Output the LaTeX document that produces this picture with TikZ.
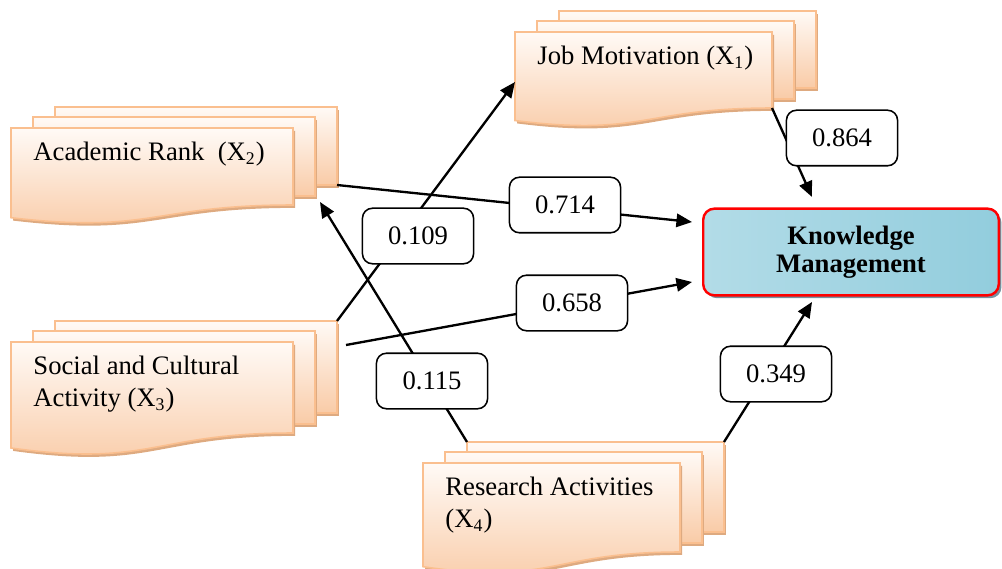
\documentclass[tikz,border=0pt]{standalone}
\usepackage{fontspec}
\setmainfont{Liberation Serif}
\usepackage{tikz}
\usetikzlibrary{
  arrows.meta
  , calc
  , shadows
}

\definecolor{docline}{RGB}{250,191,143}
\definecolor{doctop}{RGB}{255,250,246}
\definecolor{docbot}{RGB}{249,203,167}
\definecolor{docshade}{RGB}{222,170,128}
\definecolor{kmlight}{RGB}{218,238,244}
\definecolor{kmdark}{RGB}{146,205,221}
\definecolor{kmshade}{RGB}{118,146,160}

\tikzset{
  docsheet/.style={draw=docline, line width=0.7pt,
    top color=doctop, bottom color=docbot,
    drop shadow={shadow xshift=0.9pt, shadow yshift=-1.3pt,
      fill=docshade, opacity=1}},
  doctext/.style={anchor=north west, inner sep=0pt, align=left,
    font=\fontsize{12}{14}\selectfont},
  kmbox/.style={draw=red, line width=1.1pt, rounded corners=5pt,
    left color=kmdark!55!kmlight, middle color=kmlight, right color=kmdark,
    minimum width=133pt, minimum height=39pt, align=center,
    text depth=2.5pt,
    font=\bfseries\fontsize{12}{12.6}\selectfont,
    drop shadow={shadow xshift=1.2pt, shadow yshift=-1.3pt,
      fill=kmshade, opacity=1}},
  coef/.style={draw, line width=0.7pt, rounded corners=4.5pt, fill=white,
    minimum width=50pt, minimum height=25pt,
    font=\fontsize{12}{14}\selectfont},
  link/.style={line width=1.05pt, -{Triangle[length=7pt,width=6pt]}}
}

% stacked document: name, front top-left, width, height, text
\newcommand{\stackdoc}[5]{%
  \begin{scope}[shift={#2}]
    % two sheets behind
    \foreach \ox/\oy/\oh in {44/21/20, 22/11/9}
      \draw[docsheet] (\ox,-\oy) rectangle (\ox+#3,#4-\oh);
    % front sheet with wavy bottom
    \draw[docsheet] (0,0) -- (#3,0) -- (#3,#4)
      .. controls (0.5*#3,#4) and (0.5*#3,1.38*#4) .. (0,1.165*#4) -- cycle;
    \coordinate (#1-nw) at (44,-21);
    \coordinate (#1-ne) at (44+#3,-21);
    \coordinate (#1-se) at (#3,#4);
    \coordinate (#1-be) at (44+#3,#4-20);
    \node[doctext] (#1) at (22,14) {#5};
  \end{scope}%
}

\begin{document}
\begin{tikzpicture}[x=0.45pt,y=-0.45pt]
      \useasboundingbox (0,0) rectangle (1002,569);

      \stackdoc{job}{(515,32)}{257}{76}{Job Motivation (X\textsubscript{1})}
      \stackdoc{rank}{(11,128)}{282}{77}{Academic Rank\ \ (X\textsubscript{2})}
      \stackdoc{soc}{(11,342)}{282}{91}{Social and Cultural\\Activity (X\textsubscript{3})}
      \stackdoc{res}{(423,463)}{257}{89}{Research Activities\\(X\textsubscript{4})}

      \node [kmbox] (km) at (851,252) {Knowledge\\Management};

      % free ends of the arrows
      \coordinate (km-a) at (812,197);
      \coordinate (km-b) at (692,222);
      \coordinate (km-c) at (692,282);
      \coordinate (km-d) at (812,302);
      \coordinate (job-in) at (515,82);
      \coordinate (rank-in) at (320,202);
      \coordinate (soc-out) at (346,345);

      \draw [link] (job-se) -- (km-a);
      \draw [link] (rank-be) -- (km-b);
      \draw [link] (soc-ne) -- (job-in);
      \draw [link] (soc-out) -- (km-c);
      \draw [link] (res-nw) -- (rank-in);
      \draw [link] (res-ne) -- (km-d);

      \node [coef] (c-job) at (842,138) {0.864};
      \node [coef] (c-rank) at (565,205) {0.714};
      \node [coef] (c-socjob) at (418,236) {0.109};
      \node [coef] (c-soc) at (572,303) {0.658};
      \node [coef] (c-res) at (432,381) {0.115};
      \node [coef] (c-reskm) at (776,374) {0.349};

\end{tikzpicture}
\end{document}
